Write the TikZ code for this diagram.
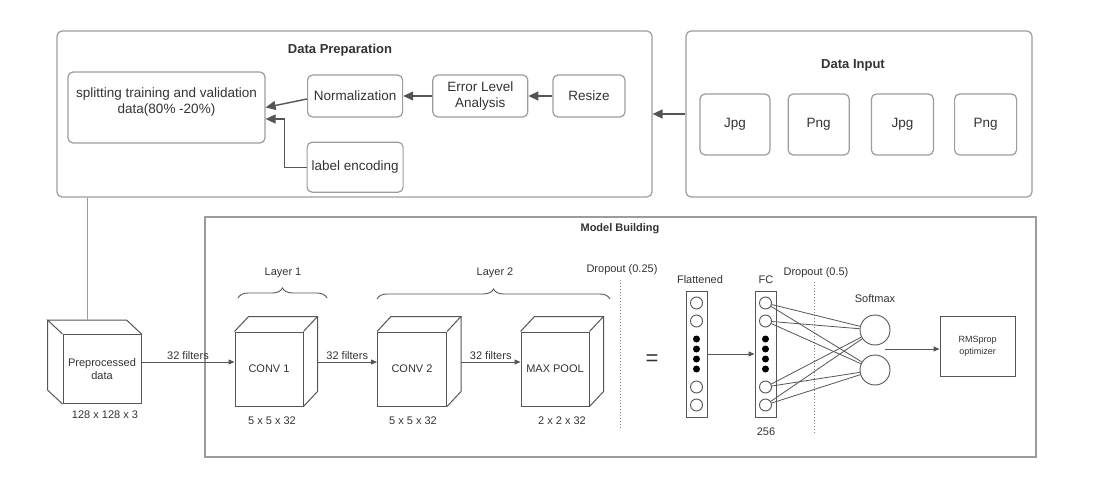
\documentclass[tikz,border=0pt]{standalone}
\usepackage{fontspec}
\setmainfont{Liberation Sans}
\usetikzlibrary{positioning, arrows.meta, decorations.pathreplacing, calc}

\definecolor{boxgray}{HTML}{9C9C9C}
\definecolor{linegray}{HTML}{555555}
\definecolor{txtgray}{HTML}{333333}

\begin{document}
\begin{tikzpicture}[
    x=1pt, y=-1pt,
    every node/.style={font=\fontsize{13.5}{16}\selectfont, text=txtgray},
    title/.style={font=\fontsize{13}{15}\selectfont\bfseries},
    small/.style={font=\fontsize{11}{13}\selectfont},
    box/.style={draw=boxgray, line width=1.2pt, rounded corners=5pt, inner sep=0pt, align=center},
    frame/.style={draw=boxgray, line width=1.3pt, inner sep=0pt},
    cubeface/.style={draw=linegray, line width=1pt, inner sep=0pt, align=center, small},
    cubeline/.style={linegray, line width=1pt},
    neuron/.style={circle, draw=linegray, line width=0.9pt, minimum size=12pt, inner sep=0pt},
    dotn/.style={circle, fill=black, minimum size=7pt, inner sep=0pt},
    arrow/.style={-{Triangle[length=10pt, width=9pt]}, linegray, line width=1.4pt},
    thinarrow/.style={-{Triangle[length=6pt, width=5pt]}, linegray, line width=1pt}
  ]
\useasboundingbox (0,0) rectangle (1103,492);

% data preparation
\node[box, minimum width=595pt, minimum height=166pt] (prep) at (354.5,114) {};
\node[title] (preptitle) at (340,50) {Data Preparation};

\node[box, minimum width=197pt, minimum height=71pt] (split) at (166.5,107.5) {};
\node[align=center] (splittxt) at (166.5,102) {splitting training and validation\\data(80\% -20\%)};

\node[box, minimum width=72pt, minimum height=42pt] (resize) at (589,96) {Resize};
\node[box, minimum width=95pt, minimum height=42pt,
      left=24pt of resize]                          (ela)    {Error Level\\Analysis};
\node[box, minimum width=95pt, minimum height=42pt,
      left=29pt of ela]                             (norm)   {Normalization};
\node[box, minimum width=96pt, minimum height=50pt,
      below=24pt of norm]                           (labenc) {label encoding};

\draw[arrow] (resize.west) -- (ela.east);
\draw[arrow] (ela.west) -- (norm.east);
\draw[arrow] ([yshift=-3pt]norm.west) -- (split.east);
\draw[arrow] (labenc.west) -- ++(-22,0) |- ([yshift=-11.5pt]split.east);

% data input
\node[box, minimum width=346pt, minimum height=166pt] (input) at (859,114) {};
\node[title] (inputtitle) at (853,65) {Data Input};

\node[box, minimum width=70pt, minimum height=61pt] (jpgA) at (735,124.5) {Jpg};
\node[box, minimum width=61pt, minimum height=61pt,
      right=17pt of jpgA]                           (pngA) {Png};
\node[box, minimum width=62pt, minimum height=61pt,
      right=21pt of pngA]                           (jpgB) {Jpg};
\node[box, minimum width=62pt, minimum height=61pt,
      right=20pt of jpgB]                           (pngB) {Png};

\draw[arrow] (input.west) -- (prep.east);

% model building
\node[frame, minimum width=831pt, minimum height=240pt] (model) at (620.5,337) {};
\node[title, font=\fontsize{11}{13}\selectfont\bfseries] (modeltitle) at (620,229) {Model Building};

\node[cubeface, minimum width=78pt, minimum height=69pt] (pre) at (102,369) {Preprocessed\\data};
\draw[cubeline] (pre.north west) -- ++(-15,-14) -- ($(pre.north east)+(-15,-14)$) -- (pre.north east);
\draw[cubeline] ($(pre.north west)+(-15,-14)$) -- ($(pre.south west)+(-15,-14)$) -- (pre.south west);
\coordinate (pretop) at ($(pre.north west)+(25,-14)$);
\draw[boxgray, line width=1.3pt] (prep.south -| pretop) -- (pretop);
\node[small] (predim) at (105,415) {128 x 128 x 3};

\node[cubeface, minimum width=68pt, minimum height=74pt] (conv1) at (269,369) {CONV 1};
\node[cubeface, minimum width=69pt, minimum height=74pt] (conv2) at (412,369) {CONV 2};
\node[cubeface, minimum width=68pt, minimum height=74pt] (pool)  at (555,369) {MAX POOL};
\foreach \c in {conv1, conv2, pool} {
  \draw[cubeline] (\c.north west) -- ++(14,-15) -- ($(\c.north east)+(14,-15)$)
        -- ($(\c.south east)+(14,-15)$) -- (\c.south east);
  \draw[cubeline] (\c.north east) -- ++(14,-15);
}
\node[small] (conv1dim) at (272,421) {5 x 5 x 32};
\node[small] (conv2dim) at (413,421) {5 x 5 x 32};
\node[small] (pooldim)  at (562,421) {2 x 2 x 32};

\draw[thinarrow] ([yshift=7pt]pre.east) -- ([yshift=7pt]conv1.west)
     node[midway, above, small, inner sep=2pt] (f1lab) {32 filters};
\draw[thinarrow] ([xshift=14pt, yshift=7pt]conv1.east) -- ([yshift=7pt]conv2.west)
     node[midway, above, small, inner sep=2pt] (f2lab) {32 filters};
\draw[thinarrow] ([xshift=14pt, yshift=7pt]conv2.east) -- ([yshift=7pt]pool.west)
     node[midway, above, small, inner sep=2pt] (f3lab) {32 filters};

\draw[decorate, decoration={brace, amplitude=10pt}, linegray, line width=0.9pt] (238,298) -- (327,298);
\draw[decorate, decoration={brace, amplitude=10pt}, linegray, line width=0.9pt] (377,299) -- (610,299);
\node[small] (layer1) at (283,273) {Layer 1};
\node[small] (layer2) at (495,273) {Layer 2};

\draw[dotted, gray, line width=1pt] (620,280) -- (620,430);
\node[small] (drop1) at (622,270) {Dropout (0.25)};
\node[font=\fontsize{22}{24}\selectfont] (equal) at (652,360) {=};

% flattened and fc layers
\node[draw=linegray, line width=1pt, minimum width=21pt, minimum height=126pt, inner sep=0pt] (flat) at (696.5,354) {};
\node[draw=linegray, line width=1pt, minimum width=21pt, minimum height=126pt, inner sep=0pt] (fc)   at (765.5,354) {};
\foreach \y [count=\i] in {303,321,387,405} {
  \node[neuron] (f\i) at (696.5,\y) {};
  \node[neuron] (c\i) at (765.5,\y) {};
}
\foreach \y [count=\i] in {339,349,359,369} {
  \node[dotn] (fd\i) at (696.5,\y) {};
  \node[dotn] (cd\i) at (765.5,\y) {};
}
\node[small] (flatlab) at (700,280) {Flattened};
\node[small] (fclab)   at (766,280) {FC};
\node[small] (fcnum)   at (766,432) {256};
\draw[thinarrow] (flat.east) -- (fc.west);

\draw[dotted, gray, line width=1pt] (814,282) -- (814,433);
\node[small] (drop2) at (816,273) {Dropout (0.5)};

\node[neuron, minimum size=30pt] (sm1) at (875,330) {};
\node[neuron, minimum size=30pt] (sm2) at (875,370) {};
\node[small] (smlab) at (875,299) {Softmax};
\foreach \i in {1,...,4}
  \foreach \s in {sm1, sm2}
    \draw[linegray, line width=0.8pt] (c\i) -- (\s);

\node[draw=linegray, line width=1pt, minimum width=75pt, minimum height=60pt, align=center,
      font=\fontsize{9}{12}\selectfont] (rms) at (977.5,346) {RMSprop\\optimizer};
\coordinate (smout) at (885,349);
\draw[thinarrow] (smout) -- (smout -| rms.west);
\end{tikzpicture}
\end{document}
